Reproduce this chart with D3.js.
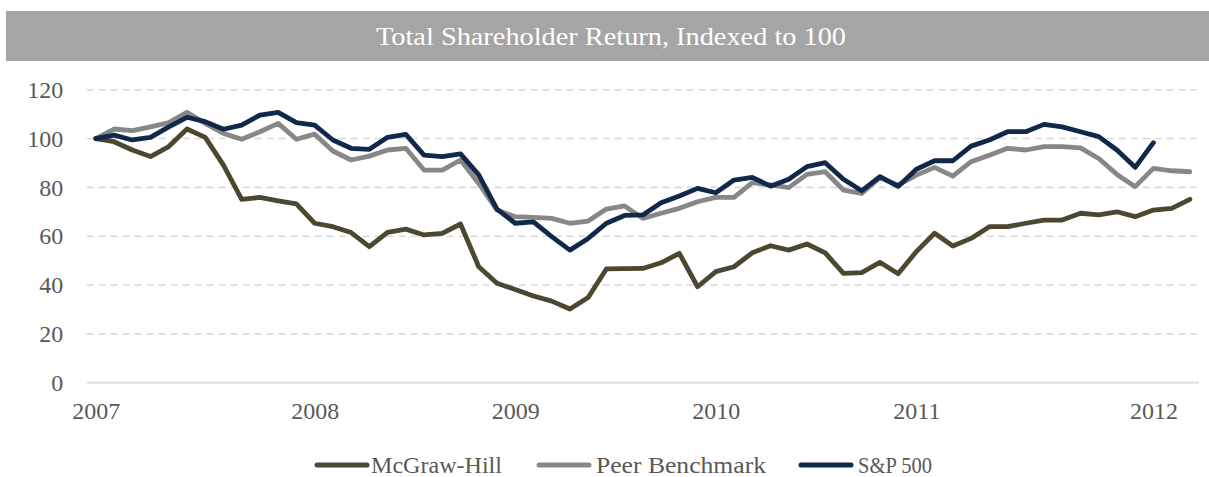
<!DOCTYPE html>
<html>
<head>
<meta charset="utf-8">
<script src="https://cdn.jsdelivr.net/npm/d3@7"></script>
<style>
  html, body { margin: 0; padding: 0; background: #ffffff; }
  svg { display: block; }
</style>
</head>
<body>
<svg id="chart" width="1209" height="477"></svg>
<script>
// ---- Data ----
const seriesNames = ["McGraw-Hill", "Peer Benchmark", "S&P 500"];

const mcgrawHill = [
  100, 98.7, 95.3, 92.6, 96.7, 103.9, 100.5, 89.1, 75.1, 75.9,
  74.5, 73.2, 65.3, 63.9, 61.5, 55.7, 61.6, 62.9, 60.5, 61.2,
  65.0, 47.5, 40.7, 38.2, 35.5, 33.4, 30.2, 34.9, 46.6, 46.7,
  46.8, 49.1, 53.0, 39.3, 45.5, 47.5, 53.2, 56.1, 54.3, 56.8,
  53.2, 44.8, 45.1, 49.3, 44.6, 53.7, 61.2, 56.0, 59.1, 63.9,
  63.9, 65.3, 66.6, 66.6, 69.4, 68.7, 70.0, 68.0, 70.7, 71.4,
  75.1
];

const peerBenchmark = [
  100, 103.9, 103.2, 104.8, 106.5, 110.7, 106.2, 102.1, 99.7, 102.8,
  106.2, 99.7, 101.8, 94.9, 91.2, 92.8, 95.3, 96.0, 87.1, 87.1,
  91.2, 81.6, 70.7, 68.0, 67.7, 67.3, 65.3, 66.2, 71.1, 72.4,
  67.3, 69.4, 71.4, 74.1, 75.9, 75.9, 81.9, 81.0, 79.9, 85.3,
  86.4, 78.9, 77.5, 84.0, 80.9, 85.0, 88.2, 84.6, 90.5, 93.2,
  96.0, 95.3, 96.7, 96.7, 96.2, 91.8, 85.3, 80.3, 87.8, 86.8,
  86.4
];

const sp500 = [
  100, 101.4, 99.4, 100.5, 104.8, 108.7, 106.9, 103.8, 105.5, 109.6,
  110.7, 106.5, 105.5, 99.4, 96.0, 95.6, 100.5, 101.7, 93.2, 92.6,
  93.7, 85.1, 71.1, 65.3, 65.9, 59.8, 54.3, 59.1, 65.3, 68.5,
  68.7, 73.7, 76.5, 79.6, 77.8, 83.0, 84.1, 80.5, 83.3, 88.5,
  90.1, 83.3, 78.6, 84.4, 80.4, 87.4, 90.9, 90.9, 96.9, 99.4,
  102.8, 102.8, 105.8, 104.8, 102.8, 100.8, 95.3, 88.2, 98.3, null,
  null
];

const seriesColors = ["#4b4730", "#878787", "#10294a"];

const yTickValues = [0, 20, 40, 60, 80, 100, 120];
const xTickLabels = ["2007", "2008", "2009", "2010", "2011", "2012"];
const xTickPositions = [0, 12, 23, 34, 45, 58];

// ---- Layout ----
const W = 1209, H = 477;
const plotLeft = 86.7, plotRight = 1199, plotTop = 89.7, plotBottom = 382.7;

const svg = d3.select("#chart");

// Title bar
svg.append("rect")
  .attr("x", 6).attr("y", 11)
  .attr("width", W - 6).attr("height", 50)
  .attr("fill", "#a5a5a5");
svg.append("text")
  .attr("x", 611).attr("y", 45)
  .attr("text-anchor", "middle")
  .attr("font-family", "'Liberation Serif', 'Times New Roman', serif")
  .attr("font-size", 25)
  .attr("fill", "#ffffff")
  .attr("textLength", 470)
  .attr("lengthAdjust", "spacingAndGlyphs")
  .text("Total Shareholder Return, Indexed to 100");

// Scales
const indices = d3.range(mcgrawHill.length);
const x = d3.scalePoint().domain(indices).range([plotLeft, plotRight]).padding(0.5);
const y = d3.scaleLinear().domain([0, 120]).range([plotBottom, plotTop]);

// Gridlines
const grid = svg.append("g");
grid.selectAll("line.g")
  .data(yTickValues.filter(v => v !== 0))
  .join("line")
  .attr("x1", plotLeft).attr("x2", plotRight - 2.3)
  .attr("y1", d => y(d)).attr("y2", d => y(d))
  .attr("stroke", "#d9d9d9")
  .attr("stroke-width", 1.6)
  .attr("stroke-dasharray", "7,5");
grid.append("line")
  .attr("x1", plotLeft).attr("x2", plotRight)
  .attr("y1", y(0)).attr("y2", y(0))
  .attr("stroke", "#d9d9d9")
  .attr("stroke-width", 1.8);

// Y axis
const yAxis = svg.append("g")
  .attr("transform", `translate(${plotLeft},0)`)
  .call(d3.axisLeft(y).tickValues(yTickValues).tickSize(0).tickPadding(23.5));
yAxis.select(".domain").remove();
yAxis.selectAll("text")
  .attr("font-family", "'Liberation Serif', 'Times New Roman', serif")
  .attr("font-size", 24)
  .attr("fill", "#595959");

// X axis
const xAxis = svg.append("g")
  .attr("transform", `translate(0,${plotBottom})`)
  .call(d3.axisBottom(x).tickValues(xTickPositions)
    .tickFormat((d, i) => xTickLabels[i]).tickSize(0).tickPadding(19));
xAxis.select(".domain").remove();
xAxis.selectAll("text")
  .attr("font-family", "'Liberation Serif', 'Times New Roman', serif")
  .attr("font-size", 24)
  .attr("fill", "#595959");

// Lines
const allSeries = [mcgrawHill, peerBenchmark, sp500];
const line = d3.line()
  .defined(d => d !== null)
  .x((d, i) => x(i))
  .y(d => y(d));

svg.append("g").selectAll("path")
  .data(allSeries)
  .join("path")
  .attr("d", d => line(d))
  .attr("fill", "none")
  .attr("stroke", (d, i) => seriesColors[i])
  .attr("stroke-width", 4.8)
  .attr("stroke-linejoin", "round")
  .attr("stroke-linecap", "round");

// Legend
const legendItems = [
  { x: 315, textX: 371, len: 131 },
  { x: 537, textX: 596, len: 170 },
  { x: 799, textX: 858, len: 74 }
];
const legend = svg.append("g");
legendItems.forEach((it, i) => {
  legend.append("line")
    .attr("x1", it.x + 2).attr("x2", it.x + 52)
    .attr("y1", 465).attr("y2", 465)
    .attr("stroke", seriesColors[i])
    .attr("stroke-width", 5)
    .attr("stroke-linecap", "round");
  legend.append("text")
    .attr("x", it.textX).attr("y", 473)
    .attr("font-family", "'Liberation Serif', 'Times New Roman', serif")
    .attr("font-size", 24)
    .attr("fill", "#595959")
    .attr("textLength", it.len)
    .attr("lengthAdjust", "spacingAndGlyphs")
    .text(seriesNames[i]);
});
</script>
</body>
</html>
